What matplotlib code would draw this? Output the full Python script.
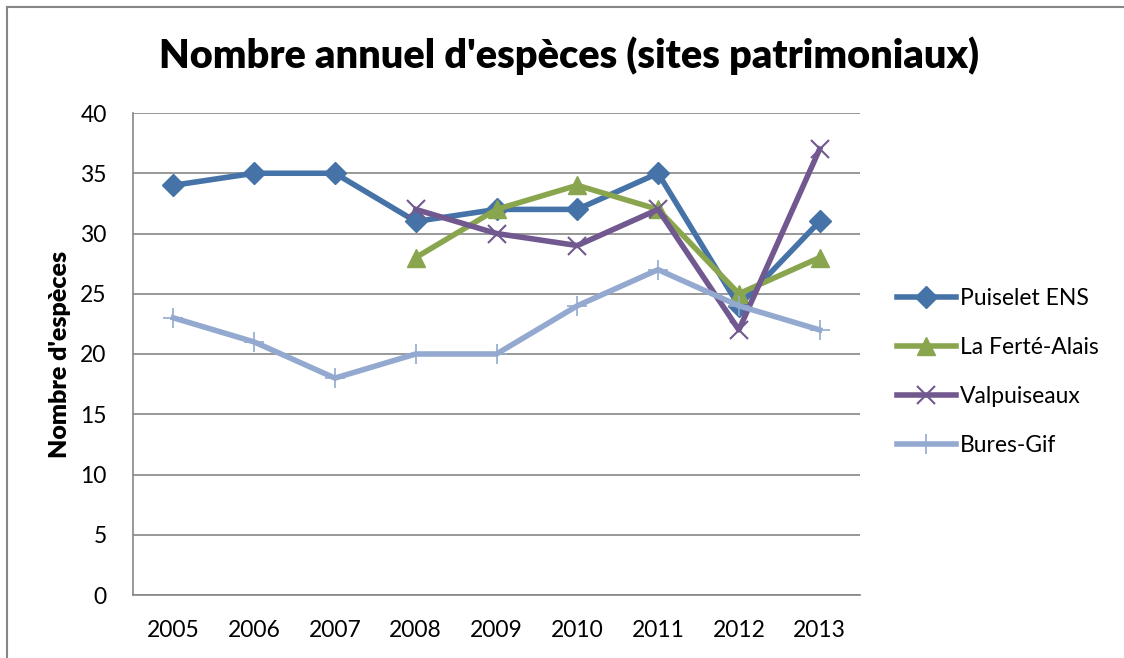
import matplotlib
matplotlib.use("Agg")
import matplotlib.pyplot as plt
from matplotlib.lines import Line2D
import numpy as np

plt.rcParams['font.family'] = ['Lato', 'DejaVu Sans']

years = ['2005', '2006', '2007', '2008', '2009', '2010', '2011', '2012', '2013']
puiselet = [34, 35, 35, 31, 32, 32, 35, 24, 31]
ferte = [None, None, None, 28, 32, 34, 32, 25, 28]
valpuiseaux = [None, None, None, 32, 30, 29, 32, 22, 37]
bures = [23, 21, 18, 20, 20, 24, 27, 24, 22]

series = [
    ('Puiselet ENS', puiselet, '#4573A7', 'D', 11, 1),
    ('La Ferté-Alais', ferte, '#89A54E', '^', 13, 1),
    ('Valpuiseaux', valpuiseaux, '#71588F', 'x', 13, 1.5),
    ('Bures-Gif', bures, '#93A9CF', '+', 14, 1.2),
]

fig = plt.figure(figsize=(11.24, 6.58), dpi=100)
# outer chart border, only top and left edges are in the picture
top = 1 - 7 / 658
left = 7 / 1124
fig.lines.append(Line2D([left, 1.0], [top, top], transform=fig.transFigure,
                        color='#868686', linewidth=1.5))
fig.lines.append(Line2D([left, left], [0.0, top], transform=fig.transFigure,
                        color='#868686', linewidth=1.5))

ax = fig.add_axes([133 / 1124, 1 - 595 / 658, 727 / 1124, 482 / 658])
x = np.arange(len(years))
for name, vals, color, marker, ms, mew in series:
    y = np.array([np.nan if v is None else v for v in vals], dtype=float)
    ax.plot(x, y, color=color, linewidth=4, marker=marker, markersize=ms,
            markeredgewidth=mew, markeredgecolor=color, label=name,
            solid_joinstyle='round')

ax.set_xlim(-0.5, len(years) - 0.5)
ax.set_ylim(0, 40)
ax.set_yticks(range(0, 41, 5))
ax.set_xticks(x)
ax.set_xticklabels(years)
ax.yaxis.grid(True, color='#868686', linewidth=1.2)
ax.set_axisbelow(True)
for s in ['top', 'right']:
    ax.spines[s].set_visible(False)
for s in ['left', 'bottom']:
    ax.spines[s].set_color('#868686')
    ax.spines[s].set_linewidth(1.2)
ax.tick_params(axis='both', length=0, labelsize=16.5)
ax.tick_params(axis='x', pad=18)
ax.tick_params(axis='y', pad=19)
ax.set_ylabel("Nombre d'espèces", fontsize=18, fontweight='heavy')
ax.yaxis.set_label_coords((71 - 133) / 727, 0.5)

fig.text(569 / 1124, 1 - 56 / 658, "Nombre annuel d'espèces (sites patrimoniaux)",
         ha='center', va='center', fontsize=28.5, fontweight='heavy')

leg = ax.legend(loc='center left', bbox_to_anchor=(876 / 1124, 1 - 372 / 658),
                bbox_transform=fig.transFigure, frameon=False, fontsize=16.5,
                handlelength=2.6, labelspacing=1.22, handletextpad=0.15)

fig.savefig('out.png', dpi=100)
